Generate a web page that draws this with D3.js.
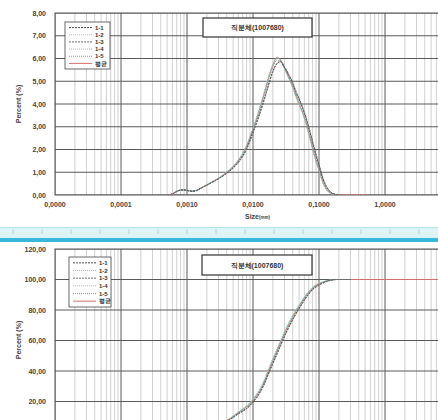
<!DOCTYPE html>
<html>

<head>
    <meta charset="UTF-8" />
    <title>psd</title>
    <style>
        body {
            margin: 0;
            padding: 0;
            background: #fff;
            overflow: hidden;
        }

        svg {
            display: block;
            font-family: 'Liberation Sans', Arial, sans-serif;
        }
    </style>
</head>

<body>
    <div class="container"></div>

    <script src="https://cdnjs.cloudflare.com/ajax/libs/d3/7.8.5/d3.min.js"></script>
    <script>
        // particle sizes (mm) for the frequency curves
        const freqSizes = [0.0005, 0.0006, 0.0007, 0.0008, 0.0009, 0.001, 0.0012, 0.0014, 0.0016, 0.002, 0.0025,
            0.003, 0.004, 0.005, 0.006, 0.008, 0.010, 0.012, 0.014, 0.016, 0.018, 0.020, 0.023, 0.026, 0.030,
            0.035, 0.040, 0.045, 0.050, 0.060, 0.070, 0.080, 0.090, 0.100, 0.115, 0.13, 0.15, 0.18, 0.2, 0.3, 0.5]

        const freq11 = [0, 0.04, 0.15, 0.21, 0.22, 0.2, 0.16, 0.19, 0.28, 0.43, 0.58, 0.71, 0.96, 1.2, 1.45, 2.05, 2.78,
            3.4, 4.0, 4.55, 5.05, 5.45, 5.78, 5.85, 5.6, 5.25, 4.9, 4.5, 4.2, 3.6, 2.95, 2.3, 1.75, 1.3, 0.7, 0.35, 0.12, 0.02, 0]
        const freq12 = [0, 0.05, 0.17, 0.22, 0.22, 0.2, 0.17, 0.2, 0.3, 0.45, 0.6, 0.74, 1.0, 1.26, 1.53, 2.17, 2.92,
            3.6, 4.25, 4.85, 5.36, 5.72, 6.0, 5.92, 5.55, 5.12, 4.72, 4.32, 3.98, 3.38, 2.68, 2.02, 1.48, 1.08, 0.52, 0.23, 0.07, 0.01, 0]
        const freq13 = [0, 0.04, 0.16, 0.22, 0.23, 0.21, 0.18, 0.21, 0.3, 0.44, 0.58, 0.71, 0.95, 1.18, 1.42, 2.0, 2.72,
            3.35, 3.95, 4.5, 5.0, 5.42, 5.76, 5.88, 5.65, 5.3, 4.95, 4.55, 4.25, 3.65, 3.0, 2.38, 1.8, 1.35, 0.75, 0.38, 0.14, 0.03, 0]
        const freq14 = [0, 0.05, 0.17, 0.22, 0.22, 0.2, 0.17, 0.2, 0.3, 0.46, 0.61, 0.75, 1.02, 1.28, 1.55, 2.2, 2.95,
            3.65, 4.3, 4.9, 5.4, 5.75, 6.02, 5.9, 5.52, 5.08, 4.68, 4.28, 3.95, 3.35, 2.66, 2.0, 1.46, 1.06, 0.5, 0.22, 0.07, 0.01, 0]
        const freq15 = [0, 0.05, 0.16, 0.21, 0.22, 0.2, 0.17, 0.2, 0.29, 0.44, 0.59, 0.73, 0.98, 1.23, 1.49, 2.1, 2.85,
            3.52, 4.15, 4.72, 5.24, 5.62, 5.92, 5.9, 5.58, 5.18, 4.8, 4.4, 4.08, 3.5, 2.82, 2.16, 1.6, 1.18, 0.6, 0.28, 0.09, 0.02, 0]
        const freqAvg = [0, 0.05, 0.17, 0.22, 0.22, 0.2, 0.17, 0.2, 0.3, 0.45, 0.6, 0.74, 1.0, 1.25, 1.52, 2.15, 2.9,
            3.58, 4.22, 4.82, 5.33, 5.7, 6.05, 5.95, 5.6, 5.15, 4.75, 4.35, 4.0, 3.4, 2.7, 2.05, 1.5, 1.1, 0.55, 0.25, 0.08, 0.01, 0, 0, 0]

        // particle sizes (mm) for the cumulative curves
        const cumSizes = [0.0005, 0.0007, 0.001, 0.0015, 0.002, 0.003, 0.0045, 0.006, 0.009, 0.0142, 0.018, 0.0231,
            0.0327, 0.0481, 0.0812, 0.115, 0.187, 0.3, 1, 3, 10]

        const cum11 = [0, 0.3, 0.8, 1.5, 2.4, 4.3, 8.3, 12, 17.5, 30, 40.5, 51.5, 66.5, 80, 93.8, 97.8, 100, 100]
        const cum12 = [0, 0.3, 0.8, 1.5, 2.4, 4.5, 9, 13, 19, 32, 43, 54, 69, 82, 95, 98.4, 100, 100]
        const cum13 = [0, 0.3, 0.8, 1.5, 2.3, 4.2, 8.2, 11.8, 17.2, 29.5, 40, 51, 66, 79.6, 93.5, 97.6, 100, 100]
        const cum14 = [0, 0.3, 0.8, 1.5, 2.4, 4.6, 9.2, 13.3, 19.4, 32.6, 43.6, 54.6, 69.5, 82.4, 95.2, 98.5, 100, 100]
        const cum15 = [0, 0.3, 0.8, 1.5, 2.4, 4.4, 8.7, 12.6, 18.4, 31, 42, 53, 68, 81.2, 94.5, 98.2, 100, 100]
        const cumAvg = [0, 0.3, 0.8, 1.5, 2.4, 4.5, 8.8, 12.8, 18.7, 31.4, 42.3, 53.4, 68.3, 81.5, 94.6, 98.3, 100, 100, 100, 100, 100]

        const seriesNames = ['1-1', '1-2', '1-3', '1-4', '1-5', '평균']
        const xTickValues = [0.00001, 0.0001, 0.001, 0.01, 0.1, 1, 10]
        const topYTicks = [0, 1, 2, 3, 4, 5, 6, 7, 8]
        const botYTicks = [0, 20, 40, 60, 80, 100, 120]
        const chartTitle = '직분체(1007680)'

        const styles = [
            { color: '#4a4a4a', dash: '2,1' },
            { color: '#c9c36a', dash: '1,1' },
            { color: '#6d6d6d', dash: '2,1' },
            { color: '#6fcfd6', dash: '1,1' },
            { color: '#8a96a6', dash: '1,1' },
            { color: '#d4706a', dash: null }
        ]

        const W = 438, H = 420
        const svg = d3.select('.container').append('svg')
            .attr('width', W)
            .attr('height', H)

        const x = d3.scaleLog().domain([1e-5, 10]).range([55, 451])
        const fmtX = d => d3.format('.4f')(d).replace('.', ',')
        const fmtY = d => d3.format('.2f')(d).replace('.', ',')

        const minorTicks = []
        xTickValues.slice(0, -1).forEach(d => {
            for (let k = 2; k <= 9; k++) minorTicks.push(d * k)
        })

        const drawPanel = (cfg) => {
            const { y, top, bottom, yTicks, yLabelTicks, sizes, series, id, legendBox, titleBox, labelY } = cfg
            const g = svg.append('g')

            g.append('clipPath').attr('id', id)
                .append('rect')
                .attr('x', 55).attr('y', top).attr('width', 396).attr('height', bottom - top)

            const grid = g.append('g').attr('clip-path', `url(#${id})`)
            grid.selectAll('.minor')
                .data(minorTicks)
                .join('line')
                .attr('x1', d => x(d)).attr('x2', d => x(d))
                .attr('y1', top).attr('y2', bottom)
                .attr('stroke', '#c4c4c4')
                .attr('stroke-width', 0.8)

            grid.selectAll('.hmaj')
                .data(yTicks)
                .join('line')
                .attr('x1', 55).attr('x2', 451)
                .attr('y1', d => y(d)).attr('y2', d => y(d))
                .attr('stroke', '#5a5a5a')
                .attr('stroke-width', 1)

            grid.selectAll('.vmaj')
                .data(xTickValues)
                .join('line')
                .attr('x1', d => x(d)).attr('x2', d => x(d))
                .attr('y1', top).attr('y2', bottom)
                .attr('stroke', '#5a5a5a')
                .attr('stroke-width', 1)

            g.append('rect')
                .attr('x', 55).attr('y', top).attr('width', 396).attr('height', bottom - top)
                .attr('fill', 'none').attr('stroke', '#555').attr('stroke-width', 1)

            // y tick labels
            g.selectAll('.ylab')
                .data(yLabelTicks)
                .join('text')
                .attr('x', 46)
                .attr('y', d => y(d) + 2.5)
                .attr('text-anchor', 'end')
                .attr('font-size', 7)
                .attr('font-weight', 'bold')
                .attr('fill', '#444')
                .text(fmtY)

            g.append('text')
                .attr('transform', `translate(21,${labelY}) rotate(-90)`)
                .attr('text-anchor', 'middle')
                .attr('font-size', 7)
                .attr('font-weight', 'bold')
                .attr('fill', '#444')
                .text('Percent (%)')

            const line = d3.line()
                .x(d => x(d[0]))
                .y(d => y(d[1]))
                .curve(d3.curveMonotoneX)

            const curves = g.append('g').attr('clip-path', `url(#${id})`)
            // average first, the dashed runs are laid over it
            const order = [5, 1, 3, 4, 0, 2]
            order.forEach(i => {
                const pts = series[i].map((v, j) => [sizes[j], v])
                curves.append('path')
                    .attr('d', line(pts))
                    .attr('fill', 'none')
                    .attr('stroke', styles[i].color)
                    .attr('stroke-width', 1)
                    .attr('stroke-dasharray', styles[i].dash)
            })

            // legend
            const lg = g.append('g').attr('transform', `translate(${legendBox[0]},${legendBox[1]})`)
            lg.append('rect')
                .attr('width', legendBox[2]).attr('height', legendBox[3])
                .attr('fill', '#fff').attr('stroke', '#444').attr('stroke-width', 0.8)
            const rowH = (legendBox[3] - 4) / seriesNames.length
            seriesNames.forEach((name, i) => {
                const yy = 2 + rowH * (i + 0.5)
                lg.append('line')
                    .attr('x1', 4).attr('x2', 27)
                    .attr('y1', yy).attr('y2', yy)
                    .attr('stroke', styles[i].color)
                    .attr('stroke-width', 1)
                    .attr('stroke-dasharray', styles[i].dash)
                lg.append('text')
                    .attr('x', 30).attr('y', yy + 2.2)
                    .attr('font-size', 6)
                    .attr('font-weight', 'bold')
                    .attr('fill', '#333')
                    .text(name)
            })

            // title box
            const tb = g.append('g').attr('transform', `translate(${titleBox[0]},${titleBox[1]})`)
            tb.append('rect')
                .attr('width', titleBox[2]).attr('height', titleBox[3])
                .attr('fill', '#fff').attr('stroke', '#333').attr('stroke-width', 1.2)
            tb.append('text')
                .attr('x', titleBox[2] / 2).attr('y', titleBox[3] / 2 + 2.5)
                .attr('text-anchor', 'middle')
                .attr('font-size', 7)
                .attr('font-weight', 'bold')
                .attr('fill', '#333')
                .text(chartTitle)
        }

        const yTop = d3.scaleLinear().domain([0, 8]).range([195, 13])
        drawPanel({
            y: yTop, top: 13, bottom: 195, yTicks: topYTicks, yLabelTicks: topYTicks, sizes: freqSizes, id: 'clipA',
            series: [freq11, freq12, freq13, freq14, freq15, freqAvg], labelY: 104,
            legendBox: [65, 22, 45, 47], titleBox: [203, 18, 109, 19]
        })

        // x tick labels under the top chart
        svg.selectAll('.xlab')
            .data(xTickValues)
            .join('text')
            .attr('x', d => x(d))
            .attr('y', 207)
            .attr('text-anchor', 'middle')
            .attr('font-size', 7)
            .attr('font-weight', 'bold')
            .attr('fill', '#444')
            .text(fmtX)

        const xt = svg.append('text')
            .attr('x', 245).attr('y', 219)
            .attr('font-weight', 'bold')
            .attr('fill', '#444')
        xt.append('tspan').attr('font-size', 7).text('Size')
        xt.append('tspan').attr('font-size', 4.5).text('(mm)')

        // cyan separator between the two sheets
        svg.append('rect').attr('x', 0).attr('y', 227).attr('width', W).attr('height', 11).attr('fill', '#dcf3f8')
        svg.append('line').attr('x1', 0).attr('x2', W).attr('y1', 227.5).attr('y2', 227.5)
            .attr('stroke', '#b6e4ee').attr('stroke-width', 1)
        svg.selectAll('.sep')
            .data(d3.range(13, W, 29))
            .join('line')
            .attr('x1', d => d).attr('x2', d => d)
            .attr('y1', 229).attr('y2', 234)
            .attr('stroke', '#a9c9d0').attr('stroke-width', 0.8)
        svg.append('rect').attr('x', 0).attr('y', 238).attr('width', W).attr('height', 4).attr('fill', '#38b9d9')

        const yBot = d3.scaleLinear().domain([0, 120]).range([432, 249])
        drawPanel({
            y: yBot, top: 249, bottom: 432, yTicks: botYTicks, yLabelTicks: botYTicks.slice(1), sizes: cumSizes, id: 'clipB',
            series: [cum11, cum12, cum13, cum14, cum15, cumAvg], labelY: 340,
            legendBox: [69, 257, 42, 50], titleBox: [202, 255, 110, 20]
        })
    </script>
</body>

</html>
